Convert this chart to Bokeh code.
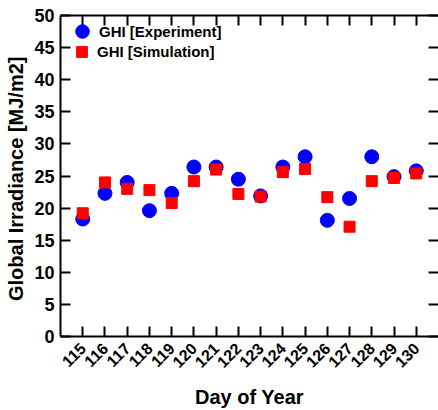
import math
from bokeh.plotting import figure
from bokeh.models import (ColumnDataSource, LinearAxis, FixedTicker, Range1d, Legend, LegendItem)
from bokeh.embed import file_html
from bokeh.resources import INLINE

days = [115, 116, 117, 118, 119, 120, 121, 122, 123, 124, 125, 126, 127, 128, 129, 130]
ghi_experiment = [18.3, 22.3, 24.0, 19.6, 22.3, 26.4, 26.4, 24.5, 21.9, 26.4, 28.0, 18.1, 21.5, 28.0, 24.9, 25.8]
ghi_simulation = [19.2, 24.0, 23.0, 22.8, 20.8, 24.2, 26.0, 22.2, 21.8, 25.6, 26.1, 21.7, 17.1, 24.2, 24.7, 25.4]
y_ticks = [0, 5, 10, 15, 20, 25, 30, 35, 40, 45, 50]

FONT = "Liberation Sans"

src = ColumnDataSource(dict(day=days, exp=ghi_experiment, sim=ghi_simulation))

p = figure(width=438, height=410, output_backend="svg", toolbar_location=None,
           x_range=Range1d(114, 131), y_range=Range1d(0, 50),
           x_axis_location=None, y_axis_location=None,
           min_border_left=60, min_border_right=0, min_border_top=15, min_border_bottom=73)
p.outline_line_color = None
p.xgrid.visible = False
p.ygrid.visible = False
p.background_fill_color = "white"
p.border_fill_color = "white"

def style(ax, labels=True, line=True, ticks=None):
    ax.axis_line_width = 2
    ax.axis_line_color = "black" if line else None
    ax.major_tick_line_color = "black"
    ax.major_tick_line_width = 2
    ax.major_tick_in = 10
    ax.major_tick_out = 0
    ax.minor_tick_line_color = None
    ax.major_label_text_font = FONT
    ax.major_label_text_font_style = "bold"
    ax.major_label_text_color = "black"
    ax.axis_label_text_color = "black"
    if not labels:
        ax.major_label_overrides = {t: "" for t in ticks}
        ax.major_label_text_font_size = "1px"
        ax.major_label_standoff = 0

# bottom axis
xb = LinearAxis(ticker=FixedTicker(ticks=days), axis_label="Day of Year")
style(xb)
xb.major_label_text_font_size = "16px"
xb.major_label_orientation = math.pi / 4
xb.major_label_standoff = 9
xb.axis_label_text_font = FONT
xb.axis_label_text_font_style = "bold"
xb.axis_label_text_font_size = "20px"
xb.axis_label_standoff = 10
p.add_layout(xb, "below")

# top axis
xt = LinearAxis(ticker=FixedTicker(ticks=days))
style(xt, labels=False, ticks=days)
p.add_layout(xt, "above")

# left axis
yl = LinearAxis(ticker=FixedTicker(ticks=y_ticks), axis_label="Global Irradiance  [MJ/m2]")
style(yl)
yl.major_label_text_font_size = "18px"
yl.major_label_standoff = 6
yl.axis_label_text_font = FONT
yl.axis_label_text_font_style = "bold"
yl.axis_label_text_font_size = "20px"
yl.axis_label_standoff = 4
p.add_layout(yl, "left")

# right axis
yr = LinearAxis(ticker=FixedTicker(ticks=y_ticks))
style(yr, labels=False, line=False, ticks=y_ticks)
p.add_layout(yr, "right")

r1 = p.scatter("day", "exp", source=src, marker="circle", size=14,
               fill_color="#0000ff", line_color="#0000ff")
r2 = p.scatter("day", "sim", source=src, marker="square", size=11,
               fill_color="#ff0000", line_color="#ff0000")

def make_legend(label, renderer, glyph, loc, standoff):
    lg = Legend(items=[LegendItem(label=label, renderers=[renderer])], location=loc)
    lg.border_line_color = None
    lg.background_fill_alpha = 0
    lg.label_text_font = FONT
    lg.label_text_font_style = "bold"
    lg.label_text_font_size = "15px"
    lg.label_text_color = "black"
    lg.glyph_width = glyph
    lg.glyph_height = glyph
    lg.label_height = glyph
    lg.padding = 0
    lg.margin = 0
    lg.spacing = 0
    lg.label_standoff = standoff
    return lg

p.add_layout(make_legend("GHI [Experiment]", r1, 34, (5, 288), 0))
p.add_layout(make_legend("GHI [Simulation]", r2, 27, (8, 271), 2))

open("out.html", "w").write(file_html(p, INLINE))
